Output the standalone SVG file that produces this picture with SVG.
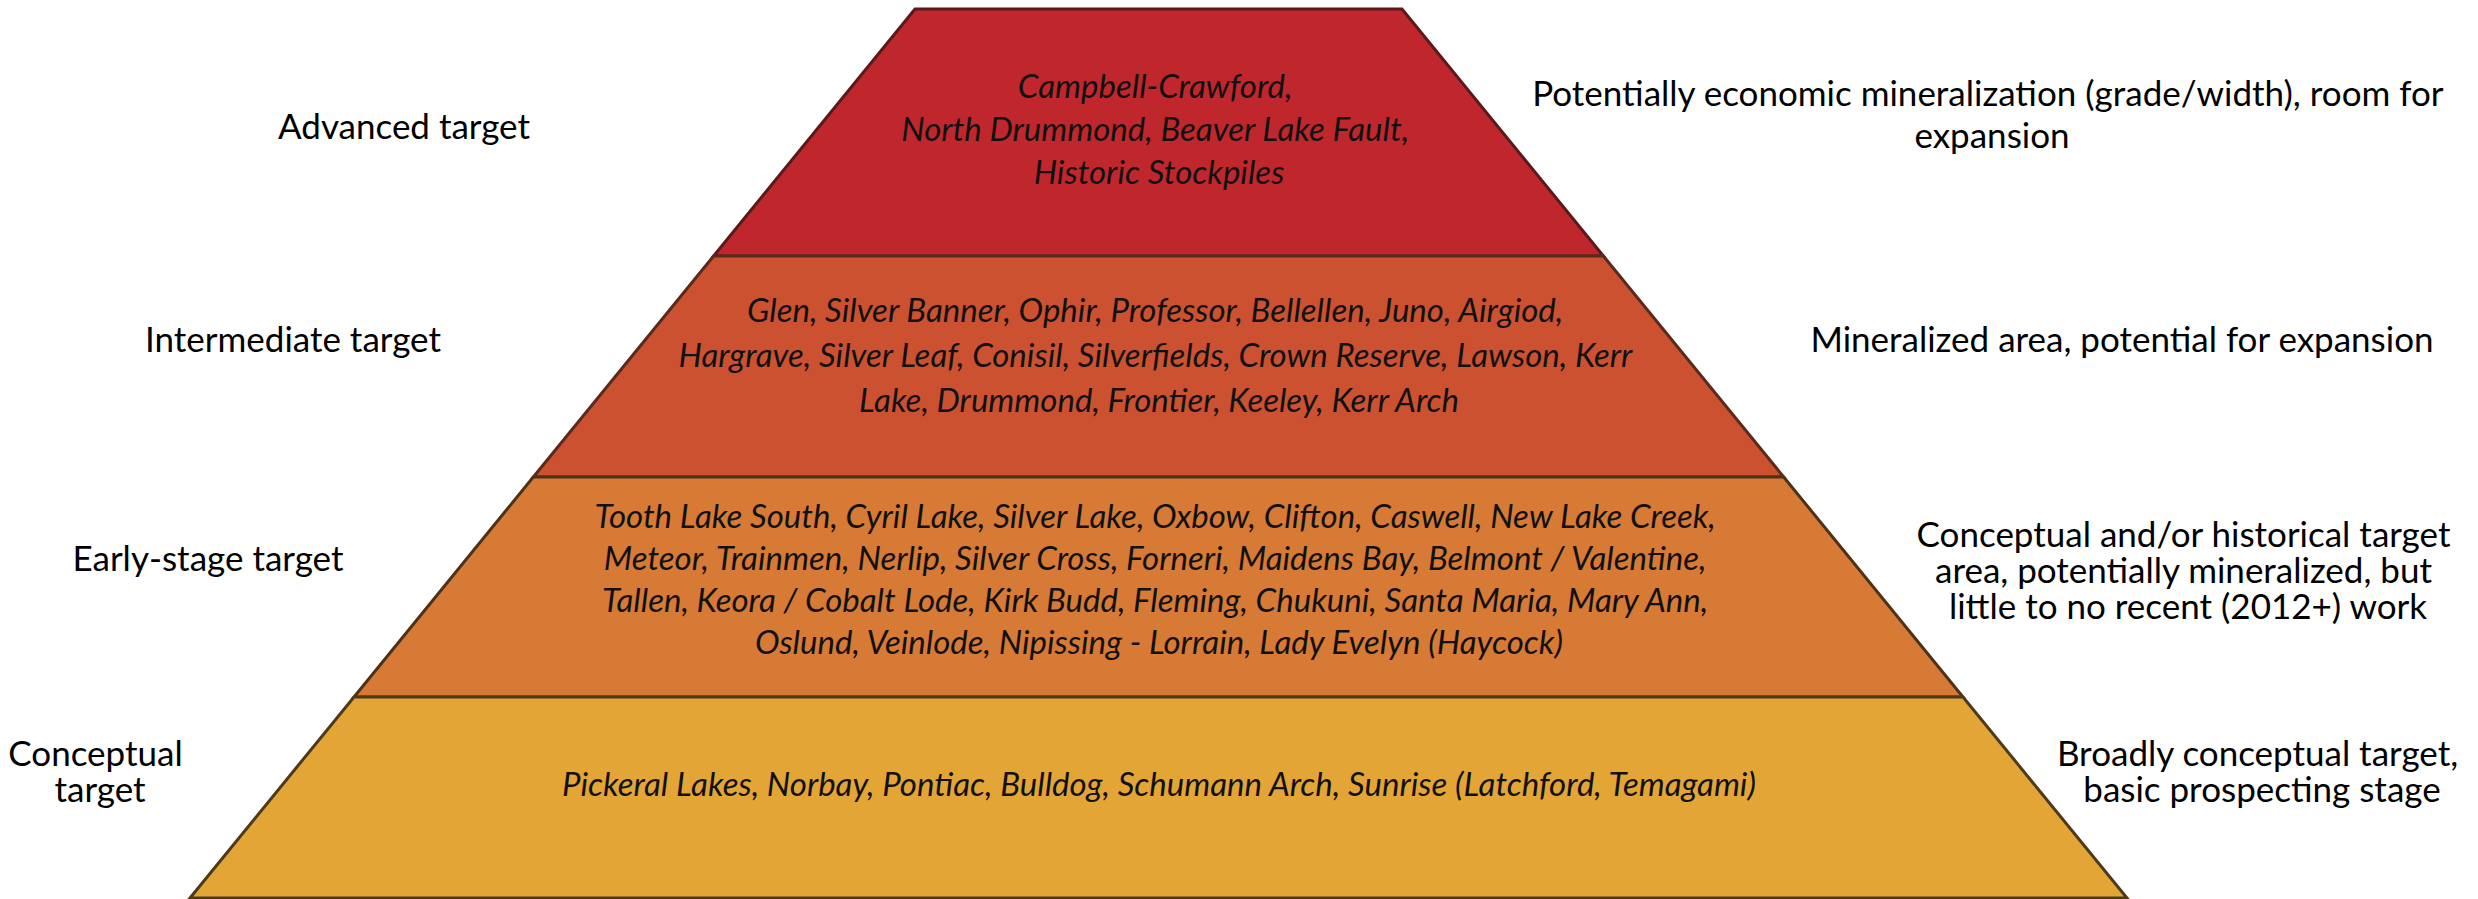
<svg xmlns="http://www.w3.org/2000/svg" width="2478" height="899" viewBox="0 0 2478 899">
  <style>
    .lbl { font-family: Lato, "Open Sans", "Liberation Sans", sans-serif; font-size: 35px; fill: #000; text-anchor: middle; }
    .itm { font-family: Lato, "Open Sans", "Liberation Sans", sans-serif; font-size: 33px; font-style: italic; fill: #111; text-anchor: middle; }
    .band { stroke-width: 3; stroke-linejoin: miter; }
  </style>
  <rect x="0" y="0" width="2478" height="899" fill="#ffffff"/>
  <g id="band-advanced">
    <polygon class="band" points="915,9 1402,9 1603.4,256 713.6,256" fill="#C0272D" stroke="#5a1a1c"/>
    <text class="itm">
      <tspan x="1159" y="98">Campbell-Crawford,</tspan>
      <tspan x="1159" y="141">North Drummond, Beaver Lake Fault,</tspan>
      <tspan x="1159" y="184">Historic Stockpiles</tspan>
    </text>
  </g>
  <g id="band-intermediate">
    <polygon class="band" points="713.6,256 1603.4,256 1783.7,477 533.3,477" fill="#CB5131" stroke="#5a2a1c"/>
    <text class="itm">
      <tspan x="1159" y="322">Glen, Silver Banner, Ophir, Professor, Bellellen, Juno, Airgiod,</tspan>
      <tspan x="1159" y="367">Hargrave, Silver Leaf, Conisil, Silverfields, Crown Reserve, Lawson, Kerr</tspan>
      <tspan x="1159" y="412">Lake, Drummond, Frontier, Keeley, Kerr Arch</tspan>
    </text>
  </g>
  <g id="band-early">
    <polygon class="band" points="533.3,477 1783.7,477 1963,697 354,697" fill="#D67A35" stroke="#4e3218"/>
    <text class="itm">
      <tspan x="1159" y="528">Tooth Lake South, Cyril Lake, Silver Lake, Oxbow, Clifton, Caswell, New Lake Creek,</tspan>
      <tspan x="1159" y="570">Meteor, Trainmen, Nerlip, Silver Cross, Forneri, Maidens Bay, Belmont / Valentine,</tspan>
      <tspan x="1159" y="612">Tallen, Keora / Cobalt Lode, Kirk Budd, Fleming, Chukuni, Santa Maria, Mary Ann,</tspan>
      <tspan x="1159" y="654">Oslund, Veinlode, Nipissing - Lorrain, Lady Evelyn (Haycock)</tspan>
    </text>
  </g>
  <g id="band-conceptual">
    <polygon class="band" points="354,697 1963,697 2127,898 190,898" fill="#E3A636" stroke="#4e3a1a"/>
    <text class="itm" x="1159" y="796">Pickeral Lakes, Norbay, Pontiac, Bulldog, Schumann Arch, Sunrise (Latchford, Temagami)</text>
  </g>
  <g id="labels-left">
    <text class="lbl" x="404" y="139">Advanced target</text>
    <text class="lbl" x="293" y="352">Intermediate target</text>
    <text class="lbl" x="208" y="571">Early-stage target</text>
    <text class="lbl">
      <tspan x="100" y="766">Conceptual</tspan>
      <tspan x="100" y="802">target</tspan>
    </text>
  </g>
  <g id="labels-right">
    <text class="lbl">
      <tspan x="1992" y="106">Potentially economic mineralization (grade/width), room for</tspan>
      <tspan x="1992" y="148">expansion</tspan>
    </text>
    <text class="lbl" x="2122" y="352">Mineralized area, potential for expansion</text>
    <text class="lbl">
      <tspan x="2188" y="547">Conceptual and/or historical target</tspan>
      <tspan x="2188" y="583">area, potentially mineralized, but</tspan>
      <tspan x="2188" y="619">little to no recent (2012+) work</tspan>
    </text>
    <text class="lbl">
      <tspan x="2262" y="766">Broadly conceptual target,</tspan>
      <tspan x="2262" y="802">basic prospecting stage</tspan>
    </text>
  </g>
  <g id="connectors"/>
</svg>
